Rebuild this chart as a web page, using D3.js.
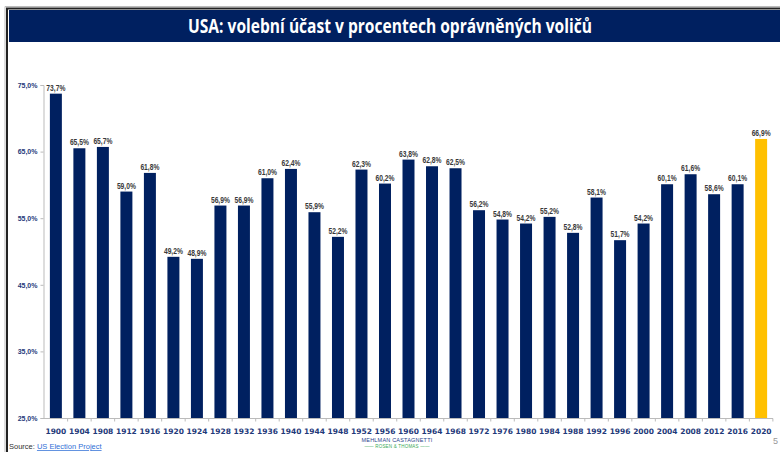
<!DOCTYPE html>
<html>
<head>
<meta charset="utf-8">
<script src="https://cdn.jsdelivr.net/npm/d3@7"></script>
<style>
  body { margin: 0; background: #fff; }
  svg { display: block; }
</style>
</head>
<body>
<svg id="chart" width="780" height="452"></svg>
<script>
const years = ["1900","1904","1908","1912","1916","1920","1924","1928","1932","1936","1940","1944","1948","1952","1956","1960","1964","1968","1972","1976","1980","1984","1988","1992","1996","2000","2004","2008","2012","2016","2020"];
const turnout = [73.7,65.5,65.7,59.0,61.8,49.2,48.9,56.9,56.9,61.0,62.4,55.9,52.2,62.3,60.2,63.8,62.8,62.5,56.2,54.8,54.2,55.2,52.8,58.1,51.7,54.2,60.1,61.6,58.6,60.1,66.9];
const yTicks = [25, 35, 45, 55, 65, 75];
const highlightYear = "2020";

const navy = "#002060";
const fmt = v => v.toFixed(1).replace(".", ",") + "%";

const svg = d3.select("#chart");

// frame + title bar
svg.append("path").attr("d", "M5,460 V6.5 H780")
    .attr("fill", "none").attr("stroke", "#bbb").attr("stroke-width", 1);
svg.append("path").attr("d", "M7,460 V8.5 H780")
    .attr("fill", "none").attr("stroke", "#222").attr("stroke-width", 2);
svg.append("rect").attr("x", 9).attr("y", 10).attr("width", 771).attr("height", 32)
    .attr("fill", navy);
svg.append("text")
    .attr("x", 188).attr("y", 33)
    .attr("fill", "#fff")
    .attr("font-family", "'Open Sans', sans-serif")
    .attr("font-weight", "bold")
    .attr("font-size", 20)
    .attr("textLength", 404)
    .attr("lengthAdjust", "spacingAndGlyphs")
    .text("USA: volební účast v procentech oprávněných voličů");

const data = years.map((y, i) => ({year: y, value: turnout[i]}));

const x = d3.scaleBand()
    .domain(years)
    .range([44, 773])
    .paddingInner(0.49)
    .paddingOuter(0.25);

const y = d3.scaleLinear()
    .domain([25, 75])
    .range([418, 85]);

// bars
svg.append("g").selectAll("rect")
    .data(data)
    .join("rect")
    .attr("x", d => x(d.year))
    .attr("y", d => y(d.value))
    .attr("width", x.bandwidth())
    .attr("height", d => y(25) - y(d.value))
    .attr("fill", d => d.year === highlightYear ? "#ffc000" : navy);

// value labels (narrow, like Arial Narrow in the original)
svg.append("g").selectAll("text")
    .data(data)
    .join("text")
    .attr("x", d => x(d.year) + x.bandwidth() / 2)
    .attr("y", d => y(d.value) - 3)
    .attr("text-anchor", "middle")
    .attr("font-family", "'Liberation Sans', Arial, sans-serif")
    .attr("font-weight", "bold")
    .attr("font-size", 9)
    .attr("textLength", 19)
    .attr("lengthAdjust", "spacingAndGlyphs")
    .attr("fill", "#3a3a3a")
    .text(d => fmt(d.value));

// y axis
const yAxis = svg.append("g")
    .attr("transform", "translate(43.5,0)")
    .call(d3.axisLeft(y).tickValues(yTicks).tickSize(3).tickFormat(fmt));
yAxis.select(".domain").attr("stroke", "#bbb");
yAxis.selectAll(".tick line").attr("stroke", "#bbb");
yAxis.selectAll(".tick text")
    .attr("fill", "#1f3a7a")
    .attr("font-family", "'Liberation Sans', Arial, sans-serif")
    .attr("font-weight", "bold")
    .attr("font-size", 7)
    .attr("x", -6);

// x axis
const xAxis = svg.append("g")
    .attr("transform", "translate(0,418.5)")
    .call(d3.axisBottom(x).tickSize(0).tickSizeOuter(0));
xAxis.select(".domain").attr("stroke", "#bbb").attr("d", "M43.5,0H773");
xAxis.selectAll(".tick text")
    .attr("dy", 0)
    .attr("y", 15)
    .attr("fill", "#1f3a7a")
    .attr("font-family", "'DejaVu Sans', sans-serif")
    .attr("font-weight", "bold")
    .attr("font-size", 7.5);
// category separators
xAxis.append("g").selectAll("line")
    .data(years)
    .join("line")
    .attr("x1", d => x(d) + x.bandwidth() + x.step() * x.paddingInner() / 2)
    .attr("x2", d => x(d) + x.bandwidth() + x.step() * x.paddingInner() / 2)
    .attr("y1", 0).attr("y2", 3)
    .attr("stroke", "#bbb");

// footer
const src = svg.append("text")
    .attr("x", 9).attr("y", 449)
    .attr("font-family", "'Liberation Sans', Arial, sans-serif")
    .attr("font-size", 7.5)
    .attr("fill", "#333");
src.append("tspan").text("Source: ");
src.append("tspan").attr("fill", "#2f6fd6").attr("text-decoration", "underline").text("US Election Project");

svg.append("text")
    .attr("x", 397).attr("y", 442)
    .attr("text-anchor", "middle")
    .attr("font-family", "'Liberation Sans', Arial, sans-serif")
    .attr("font-size", 5.5)
    .attr("letter-spacing", 0.2)
    .attr("fill", "#2b3f8c")
    .text("MEHLMAN CASTAGNETTI");
svg.append("text")
    .attr("x", 397).attr("y", 448)
    .attr("text-anchor", "middle")
    .attr("font-family", "'Liberation Sans', Arial, sans-serif")
    .attr("font-size", 4.5)
    .attr("letter-spacing", 0.2)
    .attr("fill", "#3aa857")
    .text("—— ROSEN & THOMAS ——");

svg.append("text")
    .attr("x", 773).attr("y", 444)
    .attr("font-family", "Arial, sans-serif")
    .attr("font-size", 9)
    .attr("fill", "#999")
    .text("5");
</script>
</body>
</html>
